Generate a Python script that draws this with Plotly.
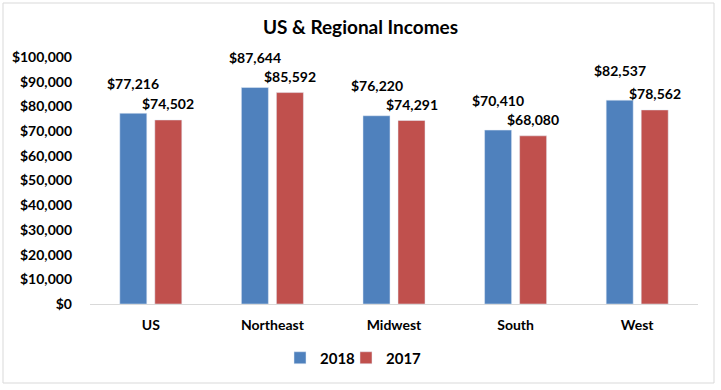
import plotly.graph_objects as go

categories = ["US", "Northeast", "Midwest", "South", "West"]
values_2018 = [77216, 87644, 76220, 70410, 82537]
values_2017 = [74502, 85592, 74291, 68080, 78562]
tick_vals = list(range(0, 100001, 10000))
tick_text = [f"${v:,}" for v in tick_vals]

BLUE = "#4F81BD"
RED = "#C0504D"
FONT = "Lato"

W, H = 721, 390
L, R, T, B = 90, 23, 57, 86
PW = W - L - R
PH = H - T - B

fig = go.Figure()
fig.add_trace(go.Bar(name="2018", x=categories, y=values_2018, marker_color=BLUE, legend="legend"))
fig.add_trace(go.Bar(name="2017", x=categories, y=values_2017, marker_color=RED, legend="legend2"))

for c, v in zip(categories, values_2018):
    fig.add_annotation(x=c, y=v, text=f"${v:,}", showarrow=False, xshift=-17.5, yshift=30,
                       font=dict(family=FONT, size=14, color="black", weight="bold"))
for c, v in zip(categories, values_2017):
    fig.add_annotation(x=c, y=v, text=f"${v:,}", showarrow=False, xshift=17.5, yshift=16,
                       font=dict(family=FONT, size=14, color="black", weight="bold"))

# chart border
fig.add_shape(type="rect", xref="paper", yref="paper",
              x0=(3 - L) / PW, x1=(714 - L) / PW,
              y0=(H - B - 383) / PH, y1=(H - B - 3) / PH,
              line=dict(color="#D9D9D9", width=1), layer="below")

legend_font = dict(family=FONT, size=15, color="black", weight="bold")
fig.update_layout(
    width=W, height=H,
    margin=dict(l=L, r=R, t=T, b=B),
    paper_bgcolor="white", plot_bgcolor="white",
    barmode="group", bargap=0.424, bargroupgap=0.229,
    title=dict(text="US & Regional Incomes", x=0.5, xanchor="center",
               y=1 - 27 / H, yanchor="middle", yref="container",
               font=dict(family=FONT, size=19, color="black", weight="bold")),
    legend=dict(orientation="h", x=(280 - L) / PW, xanchor="left",
                y=(H - B - 358) / PH, yanchor="middle", font=legend_font,
                itemwidth=30, bgcolor="rgba(0,0,0,0)"),
    legend2=dict(orientation="h", x=(346 - L) / PW, xanchor="left",
                 y=(H - B - 358) / PH, yanchor="middle", font=legend_font,
                 itemwidth=30, bgcolor="rgba(0,0,0,0)"),
    showlegend=True,
)
fig.update_xaxes(showline=True, linecolor="#D9D9D9", linewidth=1, showgrid=False,
                 ticks="", tickfont=dict(family=FONT, size=14, color="black", weight="bold"),
                 ticklabelstandoff=8)
fig.update_yaxes(range=[0, 100000], tickvals=tick_vals, ticktext=tick_text,
                 showgrid=False, zeroline=False, showline=False, ticks="",
                 tickfont=dict(family=FONT, size=14, color="black", weight="bold"),
                 ticklabelstandoff=17)

fig.write_html("out.html", config={"displayModeBar": False},
               post_script="document.body.style.margin='0';document.body.style.overflow='hidden';")
